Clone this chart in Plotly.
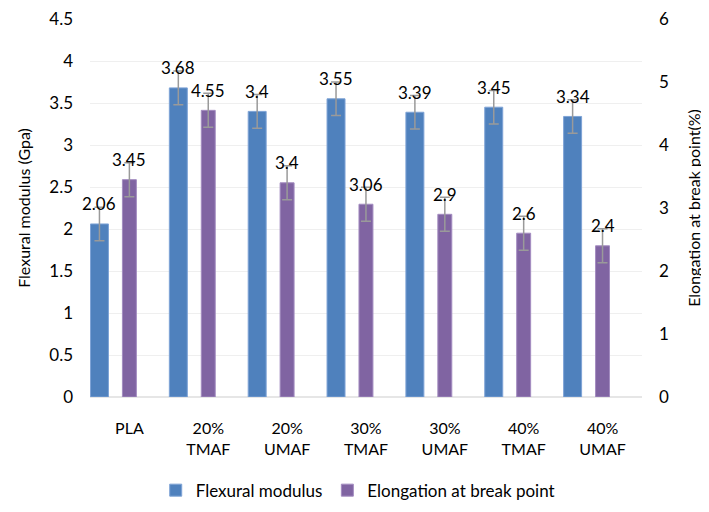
import plotly.graph_objects as go

categories = ["PLA", "20%<br>TMAF", "20%<br>UMAF", "30%<br>TMAF", "30%<br>UMAF", "40%<br>TMAF", "40%<br>UMAF"]
flexural = [2.06, 3.68, 3.4, 3.55, 3.39, 3.45, 3.34]
flexural_err = [0.2] * 7
elongation = [3.45, 4.55, 3.4, 3.06, 2.9, 2.6, 2.4]
elongation_err = [0.27] * 7

FONT = "Lato"
BLUE = "#4F81BD"
PURPLE = "#8064A2"
x = list(range(len(categories)))

w_blue, off_blue = 0.228, -0.494
w_pur, off_pur = 0.177, -0.089

fig = go.Figure()
fig.add_trace(go.Bar(
    x=x, y=flexural, name="Flexural modulus", width=w_blue, offset=off_blue,
    marker=dict(color=BLUE, line=dict(color="#7ea3d6", width=1)),
    error_y=dict(type="data", array=flexural_err, color="#9a9a9a", thickness=1.5, width=5),
    yaxis="y",
))
fig.add_trace(go.Bar(
    x=x, y=elongation, name="Elongation at break point", width=w_pur, offset=off_pur,
    marker=dict(color=PURPLE, line=dict(color="#a38cc0", width=1)),
    error_y=dict(type="data", array=elongation_err, color="#9a9a9a", thickness=1.5, width=5),
    yaxis="y2",
))

for i, v in enumerate(flexural):
    fig.add_annotation(x=i + off_blue + w_blue / 2, y=v, yref="y", text=str(v), showarrow=False,
                       yshift=20, font=dict(family=FONT, size=17, color="#000"))
for i, v in enumerate(elongation):
    fig.add_annotation(x=i + off_pur + w_pur / 2, y=v, yref="y2", text=str(v), showarrow=False,
                       yshift=20, font=dict(family=FONT, size=17, color="#000"))

# page body has an 8px default margin, so the figure is sized/offset to compensate
fig.update_layout(
    width=701, height=504,
    margin=dict(l=82, r=67, t=11, b=115, autoexpand=False),
    plot_bgcolor="white", paper_bgcolor="white",
    barmode="overlay",
    font=dict(family=FONT, size=16, color="#000"),
    xaxis=dict(range=[-0.5, 6.5], tickmode="array", tickvals=x, ticktext=categories,
               showgrid=False, zeroline=False, showline=False, ticks="", automargin=False,
               tickfont=dict(size=16), ticklabelstandoff=20),
    yaxis=dict(range=[0, 4.5], dtick=0.5, showgrid=True, gridcolor="#efefef", gridwidth=1,
               zeroline=True, zerolinecolor="#e6e6e6", showline=False, ticks="", automargin=False,
               tickfont=dict(size=17), ticklabelstandoff=16, ticklabeloverflow="allow",
               title=dict(text="Flexural modulus (Gpa)", font=dict(size=16), standoff=14)),
    yaxis2=dict(range=[0, 6], dtick=1, overlaying="y", side="right", showgrid=False,
                zeroline=False, showline=False, ticks="", tickfont=dict(size=17), automargin=False,
                ticklabelstandoff=16, ticklabeloverflow="allow",
                title=dict(text="Elongation at break point(%)", font=dict(size=16), standoff=20)),
    legend=dict(orientation="h", x=0.485, xanchor="center", y=-0.2, yanchor="top",
                font=dict(size=17), itemwidth=30, traceorder="normal"),
    showlegend=True,
)

fig.write_html("out.html")
